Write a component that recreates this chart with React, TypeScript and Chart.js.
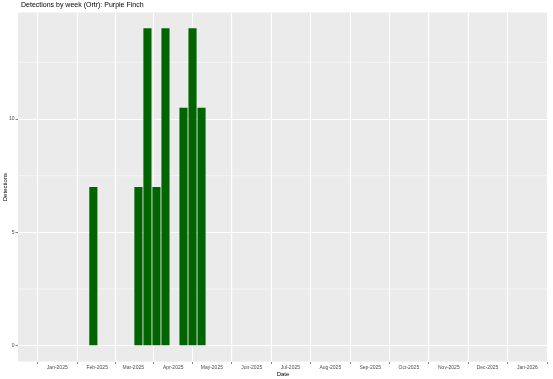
import { useEffect, useRef } from "react";
import { Chart, registerables } from "chart.js";

Chart.register(...registerables);

const chartTitle = "Detections by week (Ortr): Purple Finch";
const xAxisTitle = "Date";
const yAxisTitle = "Detections";

const weekStarts = [
  "2025-01-29",
  "2025-03-05",
  "2025-03-12",
  "2025-03-19",
  "2025-03-26",
  "2025-04-09",
  "2025-04-16",
  "2025-04-23",
];
const detections = [7, 7, 14, 7, 14, 10.5, 14, 10.5];

const xTickDates = [
  "2025-01-01", "2025-02-01", "2025-03-01", "2025-04-01", "2025-05-01", "2025-06-01",
  "2025-07-01", "2025-08-01", "2025-09-01", "2025-10-01", "2025-11-01", "2025-12-01",
  "2026-01-01",
];
const xTickLabels = [
  "Jan-2025", "Feb-2025", "Mar-2025", "Apr-2025", "May-2025", "Jun-2025",
  "Jul-2025", "Aug-2025", "Sep-2025", "Oct-2025", "Nov-2025", "Dec-2025",
  "Jan-2026",
];
const yTicks = [0, 5, 10];
const yMinorTicks = [2.5, 7.5, 12.5];

const X_MIN = -30.5;
const X_MAX = 381;
const Y_MIN = -0.7;
const Y_MAX = 14.7;

const ORIGIN = Date.UTC(2025, 0, 1);
function dayOf(s: string): number {
  const [y, m, d] = s.split("-").map(Number);
  return (Date.UTC(y, m - 1, d) - ORIGIN) / 86400000;
}

const FONT = '"Liberation Sans", Arial, sans-serif';

export default function App() {
  const ref = useRef<HTMLCanvasElement | null>(null);

  useEffect(() => {
    document.body.style.margin = "0";
    const canvas = ref.current;
    if (!canvas) return;

    const tickDays = xTickDates.map(dayOf);
    const xMinor: number[] = [];
    xMinor.push(tickDays[0] - (tickDays[1] - tickDays[0]) / 2);
    for (let i = 0; i < tickDays.length - 1; i++) xMinor.push((tickDays[i] + tickDays[i + 1]) / 2);
    const n = tickDays.length;
    xMinor.push(tickDays[n - 1] + (tickDays[n - 1] - tickDays[n - 2]) / 2);

    const panelPlugin = {
      id: "panel",
      beforeDraw(chart: any) {
        const { ctx, chartArea } = chart;
        const { left, top, right, bottom } = chartArea;
        ctx.save();
        ctx.fillStyle = "#EBEBEB";
        ctx.fillRect(left, top, right - left, bottom - top);
        ctx.strokeStyle = "#FFFFFF";
        ctx.lineWidth = 0.5;
        const xs = chart.scales.x;
        const ys = chart.scales.y;
        for (const v of xMinor) {
          if (v < X_MIN || v > X_MAX) continue;
          const px = xs.getPixelForValue(v);
          ctx.beginPath();
          ctx.moveTo(px, top);
          ctx.lineTo(px, bottom);
          ctx.stroke();
        }
        for (const v of yMinorTicks) {
          const py = ys.getPixelForValue(v);
          ctx.beginPath();
          ctx.moveTo(left, py);
          ctx.lineTo(right, py);
          ctx.stroke();
        }
        ctx.restore();
      },
      afterDraw(chart: any) {
        const { ctx } = chart;
        ctx.save();
        ctx.fillStyle = "#000000";
        ctx.font = `7px ${FONT}`;
        ctx.textBaseline = "middle";
        ctx.textAlign = "left";
        ctx.fillText(chartTitle, 21, 5.5);
        ctx.restore();
      },
    };

    const chart = new Chart(canvas, {
      type: "bar",
      data: {
        datasets: [
          {
            data: weekStarts.map((d, i) => ({ x: dayOf(d), y: detections[i] })),
            backgroundColor: "#006400",
            borderWidth: 0,
            barPercentage: 0.9,
            categoryPercentage: 1.0,
          },
        ],
      },
      options: {
        responsive: false,
        animation: false,
        layout: { padding: { top: 12.5, right: 5, left: 0, bottom: 0 } },
        plugins: {
          legend: { display: false },
          tooltip: { enabled: false },
          title: { display: false },
        },
        scales: {
          x: {
            type: "linear",
            min: X_MIN,
            max: X_MAX,
            offset: false,
            afterBuildTicks: (scale: any) => {
              scale.ticks = tickDays.map((v) => ({ value: v }));
            },
            afterFit: (scale: any) => {
              scale.height = 17.4;
            },
            ticks: {
              autoSkip: false,
              maxRotation: 0,
              minRotation: 0,
              padding: 0.5,
              color: "#4D4D4D",
              font: { family: FONT, size: 5 },
              callback: (_v: any, i: number) => xTickLabels[i],
            },
            grid: {
              color: "#FFFFFF",
              lineWidth: 1,
              tickColor: "#333333",
              tickLength: 2.5,
              tickWidth: 0.6,
            },
            border: { display: false },
            title: {
              display: true,
              text: xAxisTitle,
              color: "#000000",
              font: { family: FONT, size: 6 },
              padding: { top: 0, bottom: 1.3 },
            },
          },
          y: {
            type: "linear",
            min: Y_MIN,
            max: Y_MAX,
            afterBuildTicks: (scale: any) => {
              scale.ticks = yTicks.map((v) => ({ value: v }));
            },
            afterFit: (scale: any) => {
              scale.width = 18;
            },
            ticks: {
              padding: 1,
              color: "#4D4D4D",
              font: { family: FONT, size: 5 },
              callback: (v: any) => String(v),
            },
            grid: {
              color: "#FFFFFF",
              lineWidth: 1,
              tickColor: "#333333",
              tickLength: 2.5,
              tickWidth: 0.6,
            },
            border: { display: false },
            title: {
              display: true,
              text: yAxisTitle,
              color: "#000000",
              font: { family: FONT, size: 6 },
              padding: { top: 1.3, bottom: 0 },
            },
          },
        },
      },
      plugins: [panelPlugin],
    });

    return () => chart.destroy();
  }, []);

  return (
    <div style={{ width: 553, height: 379 }}>
      <canvas ref={ref} width={553} height={379} style={{ display: "block" }} />
    </div>
  );
}
